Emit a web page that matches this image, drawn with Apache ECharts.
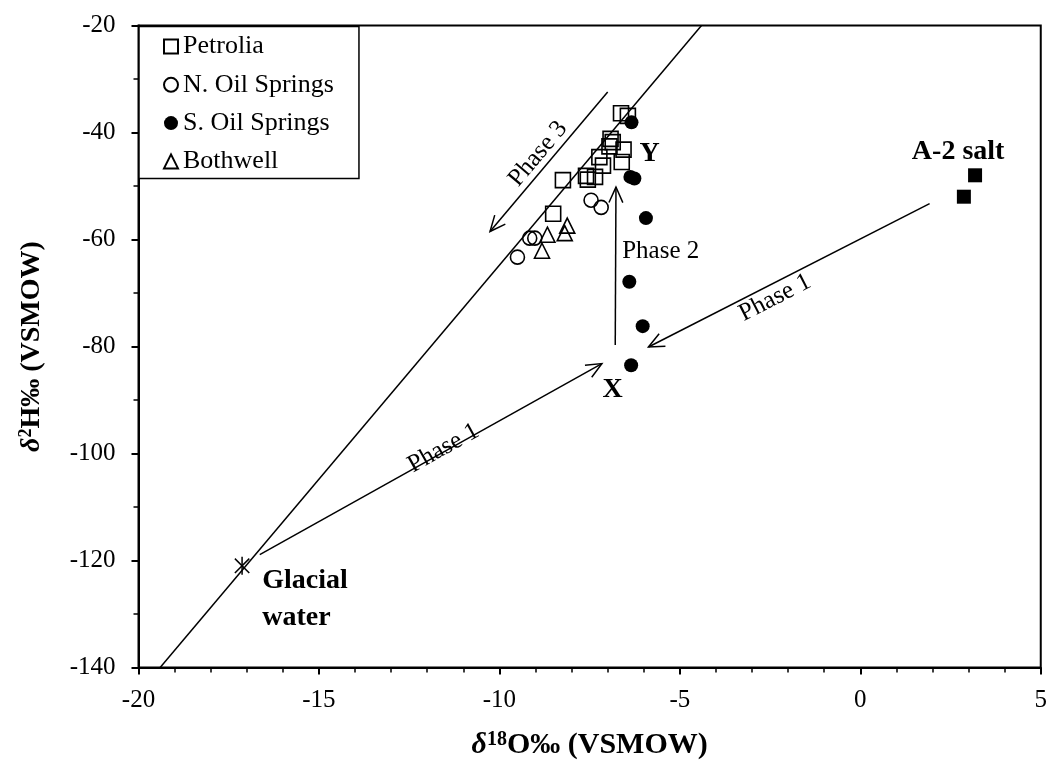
<!DOCTYPE html>
<html>
<head>
<meta charset="utf-8">
<script src="https://cdn.jsdelivr.net/npm/echarts@6/dist/echarts.min.js"></script>
<style>
  html, body { margin: 0; padding: 0; background: #fff; }
  #chart { width: 1050px; height: 765px; }
</style>
</head>
<body>
<div id="chart"></div>
<script>
// Axis ticks
const xTicks = [-20, -15, -10, -5, 0, 5];
const yTicks = [-140, -120, -100, -80, -60, -40, -20];

// Isotope samples: [δ18O, δ2H]
const petrolia = [
  [-6.63, -36.4], [-6.44, -36.9], [-6.92, -41.2], [-6.86, -41.8], [-6.95, -42.6],
  [-6.56, -43.2], [-6.61, -45.5], [-7.23, -44.6], [-7.13, -46.2], [-7.35, -48.3],
  [-7.60, -48.1], [-7.55, -48.8], [-8.24, -48.9], [-8.51, -55.2]
];
const nOilSprings = [[-7.46, -52.65], [-7.18, -54.0], [-9.16, -59.75], [-9.02, -59.75], [-9.50, -63.3]];
const sOilSprings = [[-6.34, -38.1], [-6.37, -48.3], [-6.26, -48.6], [-5.94, -56.0], [-6.40, -67.9], [-6.03, -76.2], [-6.35, -83.5]];
const bothwell = [[-8.67, -59.1], [-8.12, -57.4], [-8.19, -58.8], [-8.82, -62.1]];
const a2Salt = [[3.18, -48.0], [2.87, -52.0]];
const glacialWater = [[-17.13, -121.0]];

// Meteoric water line end points
const meteoricLine = [[-19.4, -140], [-4.4, -20]];

// Mixing/evolution arrows: [fromX, fromY, toX, toY]
const arrows = [
  [-16.64, -118.9, -7.16, -83.2],
  [1.92, -53.3, -5.87, -80.1],
  [-6.79, -79.7, -6.77, -50.2],
  [-7.0, -32.45, -10.26, -58.5]
];

// Annotation texts and their anchors
const labelTexts = ['Phase 3', 'Phase 2', 'Phase 1', 'Phase 1', 'Y', 'X', 'A-2 salt', 'Glacial\nwater'];
const labelAnchors = [
  [-8.93, -44.0], [-5.53, -62.2], [-11.55, -99.0], [-2.36, -70.9],
  [-5.84, -44.0], [-6.86, -88.1], [2.71, -43.6], [-16.57, -127.2]
];
const labelAngles = [49.9, 0, 29.2, 27.2, 0, 0, 0, 0];
const labelBold = [false, false, false, false, true, true, true, true];

const FONT = 'Liberation Serif';

const chart = echarts.init(document.getElementById('chart'));

const openStyle = { color: 'rgba(0,0,0,0)', borderColor: '#000', borderWidth: 1.6, opacity: 1 };
const solidStyle = { color: '#000', opacity: 1 };

function titleRich(size) {
  return {
    i: { fontFamily: FONT, fontSize: size, fontWeight: 'bold', fontStyle: 'italic', color: '#000' },
    sup: { fontFamily: FONT, fontSize: Math.round(size * 0.65), fontWeight: 'bold', color: '#000', verticalAlign: 'top', padding: [0, 0, Math.round(size * 0.38), 0] },
    b: { fontFamily: FONT, fontSize: size, fontWeight: 'bold', color: '#000' }
  };
}

chart.setOption({
  animation: false,
  backgroundColor: '#fff',
  grid: {
    left: 138.5, right: 5, top: 25.5, bottom: 92,
    show: true, borderColor: '#000', borderWidth: 2, backgroundColor: 'transparent'
  },
  legend: {
    orient: 'vertical',
    left: 139, top: 26.5,
    padding: [7, 25, 4, 24],
    itemWidth: 14, itemHeight: 14,
    itemGap: 12.3,
    backgroundColor: '#fff',
    borderColor: '#000', borderWidth: 1.5,
    textStyle: { fontFamily: FONT, fontSize: 26, color: '#000' },
    data: ['Petrolia', 'N. Oil Springs', 'S. Oil Springs', 'Bothwell']
  },
  xAxis: {
    type: 'value',
    min: xTicks[0], max: xTicks[xTicks.length - 1], interval: 5,
    name: '{i|δ}{sup|18}{b|O‰ (VSMOW)}',
    nameLocation: 'middle', nameGap: 62,
    nameTextStyle: { rich: titleRich(30) },
    axisLine: { onZero: false, lineStyle: { color: '#000', width: 2 } },
    axisTick: { show: true, length: 7, lineStyle: { color: '#000', width: 2 } },
    minorTick: { show: true, splitNumber: 5, length: 5, lineStyle: { color: '#000', width: 1.5 } },
    splitLine: { show: false },
    axisLabel: { fontFamily: FONT, fontSize: 25, color: '#000', margin: 20 }
  },
  yAxis: {
    type: 'value',
    min: yTicks[0], max: yTicks[yTicks.length - 1], interval: 20,
    name: '{i|δ}{sup|2}{b|H‰ (VSMOW)}',
    nameLocation: 'middle', nameGap: 92, nameRotate: 90,
    nameTextStyle: { rich: titleRich(28) },
    axisLine: { onZero: false, lineStyle: { color: '#000', width: 2 } },
    axisTick: { show: true, length: 7, lineStyle: { color: '#000', width: 2 } },
    minorTick: { show: true, splitNumber: 2, length: 5, lineStyle: { color: '#000', width: 1.5 } },
    splitLine: { show: false },
    axisLabel: { fontFamily: FONT, fontSize: 25, color: '#000', margin: 23 }
  },
  series: [
    {
      name: 'Meteoric line', type: 'line', data: meteoricLine,
      showSymbol: false, symbol: 'none', silent: true,
      lineStyle: { color: '#000', width: 1.5 }, z: 1
    },
    {
      name: 'Arrows', type: 'custom', data: arrows, silent: true, z: 2,
      renderItem: function (params, api) {
        const p1 = api.coord([api.value(0), api.value(1)]);
        const p2 = api.coord([api.value(2), api.value(3)]);
        const ang = Math.atan2(p2[1] - p1[1], p2[0] - p1[0]);
        const head = 17, spread = 0.42;
        const h1 = [p2[0] - head * Math.cos(ang - spread), p2[1] - head * Math.sin(ang - spread)];
        const h2 = [p2[0] - head * Math.cos(ang + spread), p2[1] - head * Math.sin(ang + spread)];
        return {
          type: 'group',
          children: [
            { type: 'line', shape: { x1: p1[0], y1: p1[1], x2: p2[0], y2: p2[1] }, style: { stroke: '#000', lineWidth: 1.5 } },
            { type: 'polyline', shape: { points: [h1, p2, h2] }, style: { stroke: '#000', lineWidth: 1.5, fill: null } }
          ]
        };
      }
    },
    {
      name: 'Glacial water', type: 'custom', data: glacialWater, silent: true, z: 3,
      renderItem: function (params, api) {
        const c = api.coord([api.value(0), api.value(1)]);
        const r = 9;
        const d = r * 0.8;
        return {
          type: 'group',
          children: [
            { type: 'line', shape: { x1: c[0], y1: c[1] - r, x2: c[0], y2: c[1] + r }, style: { stroke: '#000', lineWidth: 1.5 } },
            { type: 'line', shape: { x1: c[0] - d, y1: c[1] - d, x2: c[0] + d, y2: c[1] + d }, style: { stroke: '#000', lineWidth: 1.5 } },
            { type: 'line', shape: { x1: c[0] - d, y1: c[1] + d, x2: c[0] + d, y2: c[1] - d }, style: { stroke: '#000', lineWidth: 1.5 } }
          ]
        };
      }
    },
    { name: 'Petrolia', type: 'scatter', symbol: 'rect', symbolSize: 15, data: petrolia, itemStyle: openStyle, z: 5 },
    { name: 'N. Oil Springs', type: 'scatter', symbol: 'circle', symbolSize: 14, data: nOilSprings, itemStyle: openStyle, z: 5 },
    { name: 'S. Oil Springs', type: 'scatter', symbol: 'circle', symbolSize: 14, data: sOilSprings, itemStyle: solidStyle, z: 5 },
    { name: 'Bothwell', type: 'scatter', symbol: 'triangle', symbolSize: 15, data: bothwell, itemStyle: openStyle, z: 5 },
    { name: 'A-2 salt', type: 'scatter', symbol: 'rect', symbolSize: 14, data: a2Salt, itemStyle: solidStyle, z: 5 },
    {
      name: 'Annotations', type: 'custom', data: labelAnchors, silent: true, z: 6,
      renderItem: function (params, api) {
        const i = params.dataIndex;
        const c = api.coord([api.value(0), api.value(1)]);
        const isGlacial = labelTexts[i].indexOf('\n') >= 0;
        return {
          type: 'text',
          x: c[0], y: c[1],
          rotation: labelAngles[i] * Math.PI / 180,
          style: {
            text: labelTexts[i],
            fontFamily: FONT,
            fontSize: labelBold[i] ? 28 : 25,
            fontWeight: labelBold[i] ? 'bold' : 'normal',
            fill: '#000',
            lineHeight: 37,
            align: isGlacial ? 'left' : 'center',
            verticalAlign: 'middle'
          }
        };
      }
    }
  ]
});
</script>
</body>
</html>
